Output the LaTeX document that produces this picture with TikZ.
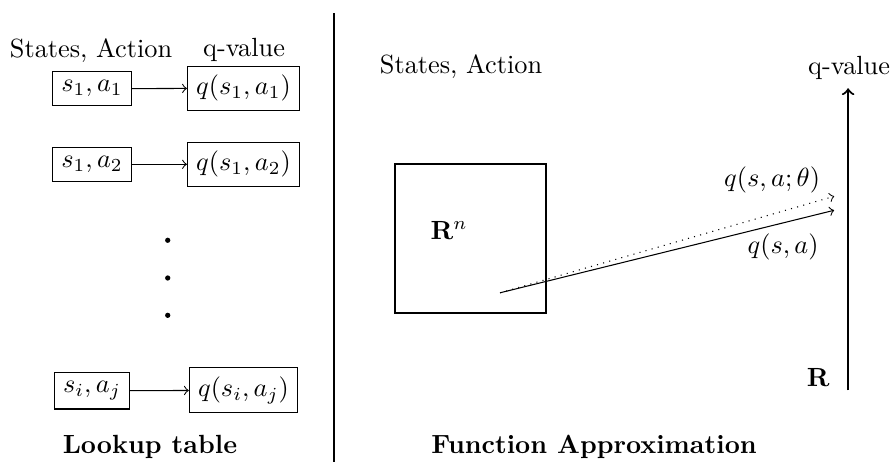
\documentclass[tikz,border=0pt]{standalone}
\usepackage{amsmath}
\usepackage{amssymb}
\begin{document}
\begin{tikzpicture}[
  cell/.style={rectangle, draw},
  qcell/.style={rectangle, draw, minimum height=0.59cm},
  dotnode/.style={circle, fill, inner sep=0pt, minimum size=2pt},
  heavy/.style={thick}
]
\useasboundingbox (0,0) rectangle (11.91,6.18);

% Lookup table
\node (lsa) at (1.217,5.508) {States, Action};
\node (lqv) at (3.262,5.508) {q-value};
\node[cell] (sa1) at (1.230,4.994) {$s_1,a_1$};
\node[qcell] (q1) at (3.255,5.000) {$q(s_1,a_1)$};
\node[cell] (sa2) at (1.230,3.984) {$s_1,a_2$};
\node[qcell] (q2) at (3.255,3.984) {$q(s_1,a_2)$};
\node[dotnode] (dot1) at (2.242,2.968) {};
\node[dotnode] (dot2) at (2.242,2.464) {};
\node[dotnode] (dot3) at (2.242,1.965) {};
\node[cell] (saij) at (1.230,0.956) {$s_i,a_j$};
\node[qcell] (qij) at (3.255,0.963) {$q(s_i,a_j)$};
\node (ltitle) at (2.005,0.201) {\textbf{Lookup table}};

\draw[->] (sa1) -- (q1);
\draw[->] (sa2) -- (q2);
\draw[->] (saij) -- (qij);

% Divider
\coordinate (divtop) at (4.465,6.003);
\coordinate (divbot) at (4.465,0);
\draw[heavy] (divtop) -- (divbot);

% Function approximation
\node (rsa) at (6.163,5.294) {States, Action};
\node (rqv) at (11.35,5.267) {q-value};
\node[draw, heavy, minimum width=2.018cm, minimum height=1.992cm] (space) at (6.290,2.988) {};
\node (rn) at (6.003,3.102) {$\mathbf{R}^n$};
\coordinate (start) at (6.684,2.266);
\coordinate (trueend) at (11.150,3.369);
\coordinate (approxend) at (11.150,3.556);
\draw[->] (start) -- (trueend);
\draw[->, dotted] (start) -- (approxend);
\node (qtheta) at (10.321,3.770) {$q(s,a;\theta)$};
\node (qsa) at (10.468,2.874) {$q(s,a)$};

% Real line
\coordinate (axbot) at (11.337,0.963);
\coordinate (axtop) at (11.337,5.0);
\draw[->, heavy] (axbot) -- (axtop);
\node (rlabel) at (10.936,1.136) {$\mathbf{R}$};
\node (rtitle) at (7.941,0.201) {\textbf{Function Approximation}};
\end{tikzpicture}
\end{document}
